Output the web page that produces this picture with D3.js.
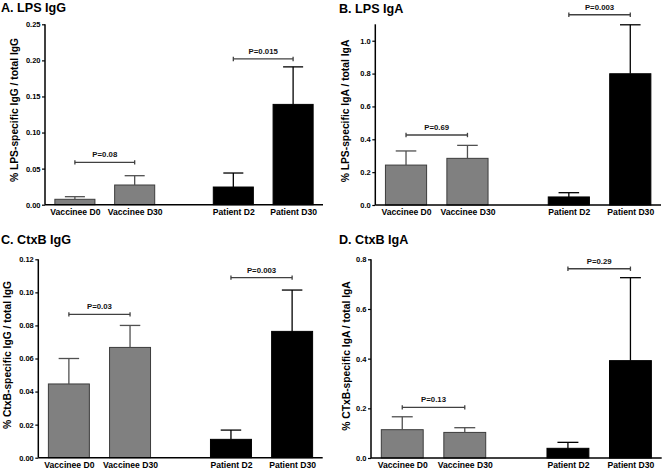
<!DOCTYPE html>
<html><head><meta charset="utf-8">
<script src="https://cdn.jsdelivr.net/npm/d3@7/dist/d3.min.js"></script>
<style>
html,body{margin:0;padding:0;background:#fff;}
svg{display:block;font-family:"Liberation Sans",Arial,sans-serif;}
</style></head><body>
<svg id="chart" width="664" height="470"></svg>
<script>
// ---- data ----
const categories = ["Vaccinee D0", "Vaccinee D30", "Patient D2", "Patient D30"];
const groups = ["Vaccinee", "Vaccinee", "Patient", "Patient"];

const titles = ["A. LPS IgG", "B. LPS IgA", "C. CtxB IgG", "D. CtxB IgA"];
const yTitles = ["% LPS-specific IgG / total IgG", "% LPS-specific IgA / total IgA",
                 "% CtxB-specific IgG / total IgG", "% CTxB-specific IgA / total IgA"];

const lpsIgG_mean = [0.0075, 0.0273, 0.0245, 0.139];
const lpsIgG_err  = [0.0036, 0.0129, 0.0194, 0.052];
const lpsIgA_mean = [0.243, 0.284, 0.049, 0.799];
const lpsIgA_err  = [0.086, 0.079, 0.026, 0.298];
const ctxIgG_mean = [0.0446, 0.0667, 0.0111, 0.0764];
const ctxIgG_err  = [0.0154, 0.0133, 0.0056, 0.025];
const ctxIgA_mean = [0.114, 0.103, 0.039, 0.392];
const ctxIgA_err  = [0.052, 0.019, 0.024, 0.334];

const yMax = [0.25, 1.1, 0.12, 0.8];
const yTicks = [[0,0.05,0.10,0.15,0.20,0.25],[0,0.2,0.4,0.6,0.8,1.0],
                [0,0.02,0.04,0.06,0.08,0.10,0.12],[0,0.2,0.4,0.6,0.8]];
const yFormats = [".2f", ".1f", ".2f", ".1f"];

// P-value comparisons: [from, to, label, bracket level]
const pLabels = [["P=0.08","P=0.015"],["P=0.69","P=0.003"],["P=0.03","P=0.003"],["P=0.13","P=0.29"]];
const pLevels = [[0.0587,0.202],[0.426,1.158],[0.0867,0.1089],[0.204,0.762]];

const means = [lpsIgG_mean, lpsIgA_mean, ctxIgG_mean, ctxIgA_mean];
const errs  = [lpsIgG_err, lpsIgA_err, ctxIgG_err, ctxIgA_err];

// ---- layout ----
const panels = [
  {left:45,    right:323,   top:24.3,  bottom:204.7, tx:1,   ty:11.8,  ytx:14,  yty:110},
  {left:375.3, right:661,   top:24.3,  bottom:205,   tx:339, ty:12.5,  ytx:345, yty:111},
  {left:38.3,  right:322.7, top:259.3, bottom:457.7, tx:1,   ty:244.2, ytx:7.5, yty:355},
  {left:371,   right:661.7, top:259.3, bottom:458,   tx:339, ty:244.2, ytx:346, yty:356}
];
const GAP = 0.65, SPAN = 4.65, BARW = 0.67;
const slot = i => i + 0.5 + (i >= 2 ? GAP : 0);
const fillColor = g => g === "Vaccinee" ? "#808080" : "#000";
const strokeColor = g => g === "Vaccinee" ? "#3c3c3c" : "#000";
const errColor = g => g === "Vaccinee" ? "#505050" : "#000";

const svg = d3.select("#chart");

panels.forEach((p, k) => {
  const g = svg.append("g");
  const x = d3.scaleLinear().domain([0, SPAN]).range([p.left, p.right]);
  const y = d3.scaleLinear().domain([0, yMax[k]]).range([p.bottom, p.top]);
  const s = x(1) - x(0);
  const bw = s * BARW;

  // bars
  g.selectAll("rect.bar").data(categories).join("rect")
    .attr("x", (d,i) => x(slot(i)) - bw/2)
    .attr("y", (d,i) => y(means[k][i]))
    .attr("width", bw)
    .attr("height", (d,i) => y(0) - y(means[k][i]))
    .attr("fill", (d,i) => fillColor(groups[i]))
    .attr("stroke", (d,i) => strokeColor(groups[i]))
    .attr("stroke-width", 1);

  // error bars (upper only)
  categories.forEach((c,i) => {
    const cx = x(slot(i));
    const top = y(means[k][i] + errs[k][i]);
    g.append("line").attr("x1", cx).attr("x2", cx)
      .attr("y1", y(means[k][i])).attr("y2", top)
      .attr("stroke", errColor(groups[i])).attr("stroke-width", 1.3);
    g.append("line").attr("x1", cx - bw/4).attr("x2", cx + bw/4)
      .attr("y1", top).attr("y2", top)
      .attr("stroke", errColor(groups[i])).attr("stroke-width", 1.3);
  });

  // y axis
  const yAxis = d3.axisLeft(y).tickValues(yTicks[k]).tickFormat(d3.format(yFormats[k]))
    .tickSize(3).tickPadding(1.5);
  const ya = g.append("g").attr("transform", `translate(${p.left},0)`).call(yAxis);
  ya.select(".domain").attr("stroke", "#000").attr("stroke-width", 1.5)
    .attr("d", `M0,${p.top}V${p.bottom}`);
  ya.selectAll(".tick line").attr("stroke", "#000").attr("stroke-width", 1.2);
  ya.selectAll(".tick text").attr("font-size", "7.5px").attr("font-weight", "bold")
    .attr("fill", "#000").attr("font-family", '"Liberation Sans",Arial,sans-serif');

  // x axis line
  const xAxis = d3.axisBottom(x).tickValues(categories.map((c,i) => slot(i)))
    .tickFormat((d,i) => categories[i]).tickSize(0).tickPadding(4);
  const xa = g.append("g").attr("transform", `translate(0,${p.bottom})`).call(xAxis);
  xa.select(".domain").attr("stroke", "#000").attr("stroke-width", 1.5)
    .attr("d", `M${p.left},0H${p.right}`);
  xa.selectAll(".tick text").attr("font-size", "8.6px").attr("font-weight", "bold")
    .attr("fill", "#000").attr("dy", "0.71em")
    .attr("font-family", '"Liberation Sans",Arial,sans-serif');

  // P-value brackets
  [[0,1],[2,3]].forEach((pair, j) => {
    const x1 = x(slot(pair[0])), x2 = x(slot(pair[1]));
    const yy = y(pLevels[k][j]);
    const col = "#404040";
    g.append("line").attr("x1", x1).attr("x2", x2).attr("y1", yy).attr("y2", yy)
      .attr("stroke", col).attr("stroke-width", 1.3);
    [x1, x2].forEach(xx => g.append("line").attr("x1", xx).attr("x2", xx)
      .attr("y1", yy - 2.2).attr("y2", yy + 2.2).attr("stroke", col).attr("stroke-width", 1.3));
    g.append("text").attr("x", (x1 + x2)/2).attr("y", yy - 5)
      .attr("text-anchor", "middle").attr("font-size", "7.8px").attr("font-weight", "bold")
      .attr("fill", "#111").text(pLabels[k][j]);
  });

  // panel title
  g.append("text").attr("x", p.tx).attr("y", p.ty).attr("font-size", "12.6px")
    .attr("font-weight", "bold").attr("fill", "#000").text(titles[k]);

  // y title
  g.append("text").attr("transform", `translate(${p.ytx},${p.yty}) rotate(-90)`)
    .attr("text-anchor", "middle").attr("dominant-baseline", "central")
    .attr("font-size", "10.3px").attr("font-weight", "bold").attr("fill", "#000")
    .text(yTitles[k]);
});
</script>
</body></html>
